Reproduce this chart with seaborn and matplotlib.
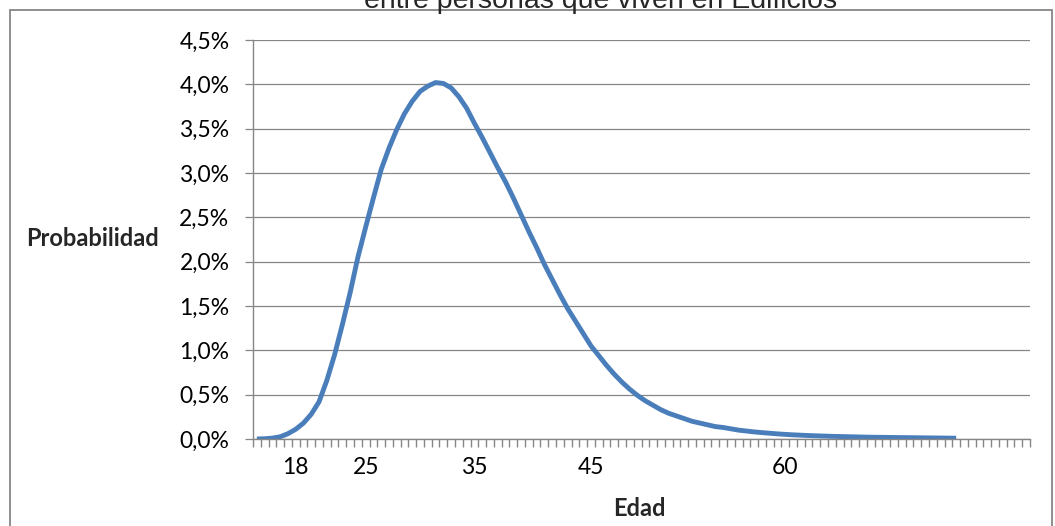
import matplotlib
matplotlib.use("Agg")
import matplotlib.pyplot as plt
from matplotlib.ticker import FuncFormatter, FixedLocator, MultipleLocator
from matplotlib.patches import Rectangle
import pandas as pd
import seaborn as sns

# ---------------- data ----------------
categoria = list(range(91))
probabilidad = [  # percent
    0.000, 0.003, 0.010, 0.025, 0.060, 0.11, 0.18, 0.28, 0.42, 0.66,
    0.95, 1.29, 1.65, 2.05, 2.39, 2.72, 3.04, 3.28, 3.49, 3.67,
    3.81, 3.92, 3.98, 4.02, 4.01, 3.96, 3.86, 3.73, 3.56, 3.40,
    3.23, 3.06, 2.90, 2.72, 2.53, 2.34, 2.16, 1.97, 1.80, 1.63,
    1.47, 1.33, 1.19, 1.05, 0.94, 0.83, 0.73, 0.64, 0.56, 0.49,
    0.43, 0.38, 0.33, 0.29, 0.26, 0.23, 0.20, 0.18, 0.16, 0.14,
    0.13, 0.115, 0.10, 0.09, 0.08, 0.072, 0.065, 0.058, 0.052, 0.047,
    0.043, 0.039, 0.036, 0.033, 0.030, 0.028, 0.026, 0.024, 0.022, 0.020,
    0.019, 0.018, 0.017, 0.016, 0.015, 0.014, 0.013, 0.012, 0.011, 0.010,
    0.009,
]
etiquetas_edad = ["18", "25", "35", "45", "60"]
categoria_etiquetas = [5, 14, 28, 43, 68]
n_categorias = 100
titulo = "entre personas que viven en Edificios"
eje_x = "Edad"
eje_y = "Probabilidad"

# ---------------- style ----------------
sns.set_theme(style="white")
plt.rcParams['font.family'] = ['Lato', 'DejaVu Sans']
GRIS = "#868686"
AZUL = "#4A7EBB"

W, H = 1055, 526
fig = plt.figure(figsize=(W / 100, H / 100), dpi=100)
fig.patch.set_facecolor("white")
ax = fig.add_axes([253 / W, 1 - 439 / H, (1030 - 253) / W, (439 - 40) / H])

df = pd.DataFrame({"categoria": categoria, "probabilidad": probabilidad})
sns.lineplot(data=df, x="categoria", y="probabilidad", ax=ax, color=AZUL,
             linewidth=3.5, solid_capstyle="butt", solid_joinstyle="round")

ax.set_xlim(-0.5, n_categorias - 0.5)
ax.set_ylim(0, 4.5)
ax.yaxis.set_major_locator(MultipleLocator(0.5))
ax.yaxis.set_major_formatter(FuncFormatter(lambda v, p: f"{v:.1f}%".replace(".", ",")))
ax.grid(axis="y", color=GRIS, lw=0.9)
ax.grid(axis="x", visible=False)
ax.set_axisbelow(True)

ax.xaxis.set_major_locator(FixedLocator(categoria_etiquetas))
ax.set_xticklabels(etiquetas_edad)
ax.xaxis.set_minor_locator(FixedLocator([i - 0.5 for i in range(n_categorias + 1)]))
ax.tick_params(axis="x", which="major", length=0, pad=13, labelsize=16.5, labelcolor="black")
ax.tick_params(axis="x", which="minor", length=5.5, width=1.0, color=GRIS, direction="out", bottom=True)
ax.tick_params(axis="y", which="major", length=6, width=0.9, color=GRIS, direction="out",
               pad=11, labelsize=16.5, labelcolor="black", left=True)

for s in ["top", "right"]:
    ax.spines[s].set_visible(False)
for s in ["left", "bottom"]:
    ax.spines[s].set_color(GRIS)
    ax.spines[s].set_linewidth(1.0)

ax.set_xlabel("")
ax.set_ylabel("")

fig.text(93 / W, 1 - 239 / H, eje_y, ha="center", va="center",
         fontsize=17, fontweight="bold")
fig.text(639 / W, 1 - 508 / H, eje_x, ha="center", va="center",
         fontsize=17, fontweight="bold")
fig.text(601 / W, 1 - 8 / H, titulo, ha="center", va="baseline",
         fontsize=20.5, family=["Liberation Sans", "DejaVu Sans"])

fig.add_artist(Rectangle((10 / W, -0.1), (1052 - 10) / W, (1 - 10 / H) + 0.1,
                         transform=fig.transFigure, fill=False,
                         edgecolor=GRIS, lw=1.3))

fig.savefig("out.png", dpi=100)
